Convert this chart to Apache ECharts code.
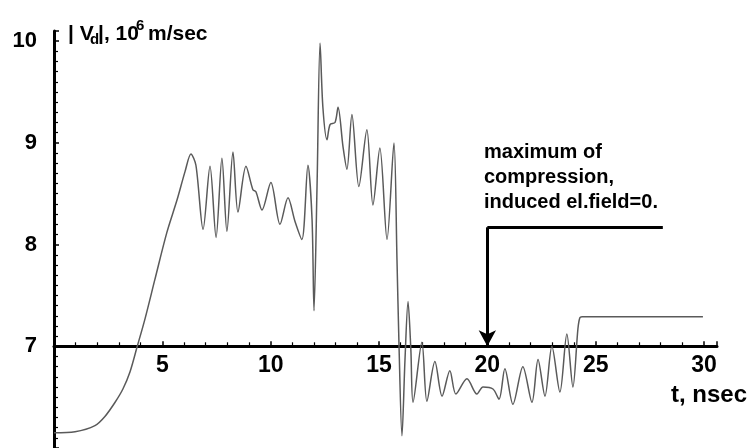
<!DOCTYPE html>
<html>
<head>
<meta charset="utf-8">
<script src="https://cdn.jsdelivr.net/npm/echarts@6/dist/echarts.min.js"></script>
<style>
html,body{margin:0;padding:0;background:#fff;}
#chart{width:750px;height:448px;}
</style>
</head>
<body>
<div id="chart"></div>
<script>
// time, nsec
const tValues = [0, 0.97, 1.89, 2.35, 2.82, 3.18, 3.51, 3.83, 4.20, 4.66, 5.21, 5.68, 6.05, 6.32, 6.55, 6.88, 7.20, 7.48, 7.75, 7.98, 8.26, 8.49, 8.86, 9.18, 9.32, 9.60, 10.01, 10.43, 10.80, 11.12, 11.44, 11.72, 11.91, 12.00, 12.14, 12.28, 12.41, 12.60, 12.74, 12.97, 13.11, 13.34, 13.52, 13.75, 14.07, 14.44, 14.72, 15.04, 15.37, 15.69, 15.83, 15.92, 16.06, 16.20, 16.34, 16.47, 16.57, 16.98, 17.21, 17.58, 17.91, 18.27, 18.55, 19.06, 19.52, 19.80, 20.26, 20.54, 20.81, 21.18, 21.64, 22.06, 22.34, 22.66, 22.98, 23.35, 23.67, 23.95, 24.18, 24.27, 24.37, 29.95];
// |Vd|, 10^6 m/sec
const vValues = [6.15, 6.16, 6.22, 6.31, 6.45, 6.58, 6.75, 6.99, 7.27, 7.66, 8.12, 8.44, 8.72, 8.89, 8.78, 8.15, 8.77, 8.07, 8.85, 8.13, 8.91, 8.32, 8.77, 8.54, 8.52, 8.34, 8.61, 8.20, 8.46, 8.23, 8.05, 8.78, 8.25, 7.35, 8.57, 9.98, 9.35, 9.03, 9.18, 9.20, 9.35, 8.96, 8.74, 9.28, 8.57, 9.13, 8.39, 8.95, 8.05, 9.00, 7.85, 7.04, 6.12, 6.87, 7.44, 6.97, 6.45, 7.04, 6.46, 6.85, 6.51, 6.76, 6.53, 6.68, 6.53, 6.60, 6.58, 6.48, 6.78, 6.43, 6.80, 6.45, 6.87, 6.51, 7.00, 6.55, 7.12, 6.60, 7.17, 7.28, 7.29, 7.29];
const xTickLabels = ['5', '10', '15', '20', '25', '30'];
const yTickLabels = ['7', '8', '9', '10'];
const annotationLines = ['maximum of', 'compression,', 'induced el.field=0.'];
const arrowT = 20;
const arrowTopV = 8.17;
const arrowRightT = 28.1;
const axisCrossV = 7;

const yMin = 6.0, yMax = 10.1, xMin = 0, xMax = 30.6;
const gridTop = 31, gridHeight = 417, gridLeft = 54, gridWidth = 663;
const xOffset = -(axisCrossV - yMin) / (yMax - yMin) * gridHeight;

const FONT = '"Liberation Sans", Arial, sans-serif';
const chart = echarts.init(document.getElementById('chart'), null, {renderer: 'canvas'});

const data = tValues.map((t, i) => [t, vValues[i]]);

chart.setOption({
  animation: false,
  backgroundColor: '#fff',
  grid: {left: gridLeft, top: gridTop, width: gridWidth, height: gridHeight, containLabel: false},
  xAxis: {
    type: 'value', min: xMin, max: xMax, interval: 5, position: 'bottom', offset: xOffset,
    axisLine: {show: true, onZero: false, lineStyle: {color: '#000', width: 3}},
    axisTick: {show: true, inside: true, length: 5, lineStyle: {color: '#000', width: 1.5}},
    minorTick: {show: true, splitNumber: 5, length: 4, lineStyle: {color: '#000', width: 1.2}},
    splitLine: {show: false},
    axisLabel: {
      color: '#000', fontSize: 23, fontWeight: 'bold', fontFamily: FONT, margin: 8,
      formatter: v => xTickLabels.includes(String(v)) ? String(v) : ''
    }
  },
  yAxis: {
    type: 'value', min: yMin, max: yMax, interval: 1,
    axisLine: {show: true, onZero: false, lineStyle: {color: '#000', width: 3}},
    axisTick: {show: true, inside: true, length: 5, lineStyle: {color: '#000', width: 1.5}},
    minorTick: {show: true, splitNumber: 10, length: 4, lineStyle: {color: '#000', width: 1.2}},
    splitLine: {show: false},
    axisLabel: {
      color: '#000', fontSize: 22, fontWeight: 'bold', fontFamily: FONT, margin: 17,
      formatter: v => yTickLabels.includes(String(v)) ? String(v) : ''
    }
  },
  series: [{
    type: 'line', data: data, showSymbol: false, smooth: 0.3,
    lineStyle: {color: '#5a5a5a', width: 1.5},
    markLine: {
      silent: true, animation: false,
      label: {show: false},
      data: [
        [{coord: [arrowT, arrowTopV], symbol: 'none'}, {coord: [arrowRightT, arrowTopV], symbol: 'none'}],
        [{coord: [arrowT, arrowTopV], symbol: 'none'}, {coord: [arrowT, axisCrossV], symbol: 'arrow', symbolSize: [13, 16]}]
      ],
      lineStyle: {color: '#000', width: 3, type: 'solid'}
    }
  }],
  graphic: [
    {type: 'text', left: 484, top: 140, style: {text: annotationLines.join('\n'), font: 'bold 20px ' + FONT, fill: '#000', lineHeight: 25}},
    {type: 'text', right: 3, top: 383, style: {text: 't, nsec', font: 'bold 24px ' + FONT, fill: '#000'}},
    {type: 'group', left: 68, top: 18, children: [
      {type: 'text', x: 0, y: 2, style: {text: '| V', font: 'bold 21px ' + FONT, fill: '#000'}},
      {type: 'text', x: 22, y: 10, style: {text: 'd', font: 'bold 15px ' + FONT, fill: '#000'}},
      {type: 'text', x: 30, y: 2, style: {text: '|, 10', font: 'bold 21px ' + FONT, fill: '#000'}},
      {type: 'text', x: 68, y: -4, style: {text: '6', font: 'bold 15px ' + FONT, fill: '#000'}},
      {type: 'text', x: 80, y: 2, style: {text: 'm/sec', font: 'bold 21px ' + FONT, fill: '#000'}}
    ]}
  ]
});
</script>
</body>
</html>
